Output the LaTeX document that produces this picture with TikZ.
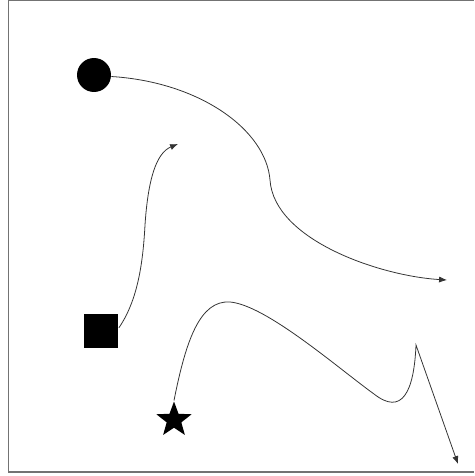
\documentclass[tikz,border=0pt]{standalone}
\usepackage{tikz}
\usetikzlibrary{shapes.geometric,arrows.meta,positioning}

\tikzset{
  blob/.style={fill=black,draw=none,inner sep=0pt},
  link/.style={draw=black!80,line width=0.45pt,-{Latex[length=4.5pt,width=3.5pt]}},
  frame/.style={draw=black!55,line width=1.1pt}
}

\begin{document}
\begin{tikzpicture}[x=0.02cm,y=-0.02cm]
  \useasboundingbox (0,0) rectangle (474,476);
  % frame
  \draw[frame] (474,0.5) -- (8.5,0.5) -- (8.5,472) -- (474,472);

  % shapes
  \node[blob,circle,minimum size=0.68cm] (dot) at (94,75) {};
  \node[blob,rectangle,minimum size=0.7cm] (box) at (101,331) {};
  \node[blob,star,star points=5,star point ratio=2.4,minimum size=0.74cm] (pin) at (174,420) {};

  % loose ends
  \coordinate (endA) at (447,280);
  \coordinate (endB) at (178,144);
  \coordinate (endC) at (458,464);

  % curves
  \draw[link] (dot.-5) .. controls (200,82) and (266,130) .. (270,180)
    .. controls (274,240) and (380,276) .. (endA);
  \draw[link] (box.10) .. controls (138,300) and (143,262) .. (145,225)
    .. controls (148,180) and (156,153) .. (endB);
  \draw[link] (pin.north) .. controls (186,340) and (200,300) .. (230,302)
    .. controls (266,305) and (338,368) .. (374,394)
    .. controls (402,416) and (414,392) .. (416,345) -- (endC);
\end{tikzpicture}
\end{document}
